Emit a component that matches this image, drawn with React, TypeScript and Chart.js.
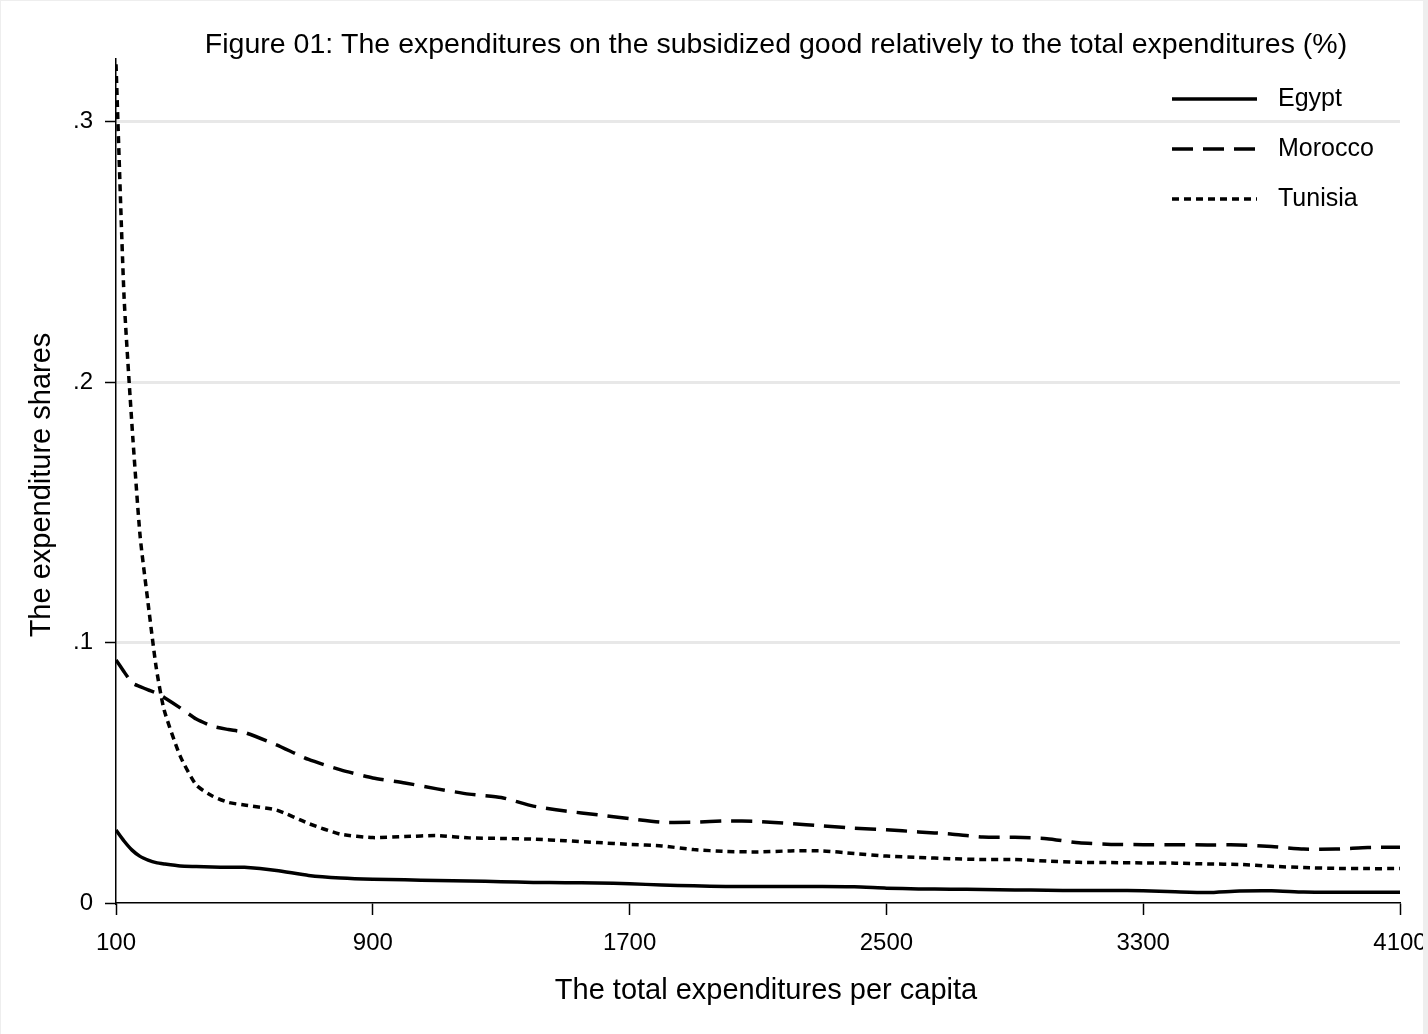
import React, { useEffect, useRef } from "react";
import { Chart, registerables } from "chart.js";

Chart.register(...registerables);

const xValues = [
  100, 125, 150, 175, 200, 225, 250, 300, 350, 400, 450, 500, 600, 700, 800, 900,
  1000, 1100, 1200, 1300, 1400, 1500, 1600, 1700, 1800, 1900, 2000, 2100, 2200,
  2300, 2400, 2500, 2600, 2700, 2800, 2900, 3000, 3100, 3200, 3300, 3400, 3500,
  3600, 3700, 3800, 3900, 4000, 4100,
];

const egypt = [
  0.028, 0.0238, 0.0203, 0.0179, 0.0165, 0.0155, 0.015, 0.0142, 0.014, 0.0138,
  0.0137, 0.0137, 0.0125, 0.0106, 0.0096, 0.0091, 0.0089, 0.0086, 0.0084, 0.0082,
  0.0079, 0.0078, 0.0077, 0.0074, 0.0069, 0.0066, 0.0063, 0.0063, 0.0063, 0.0063,
  0.0062, 0.0057, 0.0054, 0.0053, 0.0052, 0.005, 0.0049, 0.0048, 0.0048, 0.0047,
  0.0043, 0.004, 0.0046, 0.0047, 0.0042, 0.0041, 0.0041, 0.0041,
];

const morocco = [
  0.0933, 0.0888, 0.0845, 0.0831, 0.0818, 0.0806, 0.0789, 0.0749, 0.0706, 0.0679,
  0.0666, 0.0655, 0.0607, 0.0551, 0.0511, 0.048, 0.0461, 0.0438, 0.0418, 0.0405,
  0.0372, 0.0353, 0.0339, 0.0324, 0.031, 0.031, 0.0315, 0.0313, 0.0305, 0.0296,
  0.0287, 0.0281, 0.0273, 0.0265, 0.0253, 0.0252, 0.0247, 0.0231, 0.0225, 0.0224,
  0.0224, 0.0223, 0.0223, 0.0217, 0.0207, 0.0207, 0.0213, 0.0214,
];

const tunisia = [
  0.322, 0.233, 0.183, 0.141, 0.115, 0.0906, 0.0741, 0.0564, 0.0453, 0.0411,
  0.0386, 0.0376, 0.0357, 0.0305, 0.0264, 0.0251, 0.0255, 0.0259, 0.025, 0.0248,
  0.0245, 0.0239, 0.0232, 0.0225, 0.0219, 0.0205, 0.0198, 0.0196, 0.02, 0.02,
  0.019, 0.018, 0.0175, 0.017, 0.0167, 0.0167, 0.0161, 0.0156, 0.0155, 0.0154,
  0.0153, 0.015, 0.0148, 0.0141, 0.0136, 0.0133, 0.0132, 0.0132,
];

const seriesNames = ["Egypt", "Morocco", "Tunisia"];
const xTicks = [100, 900, 1700, 2500, 3300, 4100];
const yTicks = [0, 0.1, 0.2, 0.3];

const titleText =
  "Figure 01: The expenditures on the subsidized good relatively to the total expenditures (%)";
const xTitle = "The total expenditures per capita";
const yTitle = "The expenditure shares";

const FONT = '"Liberation Sans", Arial, Helvetica, sans-serif';

export default function App() {
  const ref = useRef<HTMLCanvasElement | null>(null);

  useEffect(() => {
    document.body.style.margin = "0";
    const canvas = ref.current;
    if (!canvas) return;

    const toPts = (ys: number[]) => xValues.map((x, i) => ({ x, y: ys[i] }));
    const dashes = [[], [21, 10], [7, 5]];
    const seriesData = [egypt, morocco, tunisia];

    const framePlugin = {
      id: "frame",
      beforeDraw(chart: any) {
        const c = chart.ctx;
        c.save();
        c.fillStyle = "#eeeeee";
        c.fillRect(0, 0, chart.width, chart.height);
        c.fillStyle = "#ffffff";
        c.fillRect(1, 1, 1422, chart.height - 1);
        c.restore();
      },
      afterDraw(chart: any) {
        const c = chart.ctx;
        c.save();
        // right frame strip (clips the last tick label like the original)
        c.fillStyle = "#eeeeee";
        c.fillRect(1423, 0, chart.width - 1423, chart.height);
        c.fillStyle = "#000";
        c.textAlign = "center";
        c.textBaseline = "middle";
        // title
        c.font = `28.5px ${FONT}`;
        c.fillText(titleText, 776, 45);
        // x title
        c.font = `29px ${FONT}`;
        c.fillText(xTitle, 766, 991);
        // y title
        c.save();
        c.translate(42, 485);
        c.rotate(-Math.PI / 2);
        c.fillText(yTitle, 0, 0);
        c.restore();
        // legend
        const rows = [99, 149, 199];
        c.font = `25px ${FONT}`;
        c.textAlign = "left";
        chart.data.datasets.forEach((ds: any, i: number) => {
          c.save();
          c.strokeStyle = "#000";
          c.lineWidth = 3.5;
          c.setLineDash(ds.borderDash || []);
          c.beginPath();
          c.moveTo(1172, rows[i]);
          c.lineTo(1257, rows[i]);
          c.stroke();
          c.restore();
          c.fillText(ds.label, 1278, rows[i]);
        });
        c.restore();
      },
    };

    const chart = new Chart(canvas, {
      type: "line",
      data: {
        datasets: seriesNames.map((name, i) => ({
          label: name,
          data: toPts(seriesData[i]),
          borderColor: "#000",
          backgroundColor: "#000",
          borderWidth: 3.5,
          borderDash: dashes[i],
          pointRadius: 0,
          tension: 0.2,
          fill: false,
        })),
      },
      options: {
        animation: false,
        responsive: false,
        maintainAspectRatio: false,
        events: [],
        layout: { padding: { top: 59, right: 28, left: 0, bottom: 0 } },
        plugins: {
          legend: { display: false },
          title: { display: false },
          tooltip: { enabled: false },
        },
        scales: {
          x: {
            type: "linear",
            min: 100,
            max: 4100,
            afterFit(scale: any) {
              scale.height = 131;
              scale.paddingLeft = 0;
              scale.paddingRight = 0;
            },
            afterBuildTicks(scale: any) {
              scale.ticks = xTicks.map((v) => ({ value: v }));
            },
            grid: {
              drawOnChartArea: false,
              drawTicks: true,
              tickLength: 12,
              tickColor: "#000",
              tickWidth: 1.5,
              color: "#000",
            },
            border: { display: true, color: "#000", width: 1.5 },
            ticks: {
              color: "#000",
              font: { family: FONT, size: 24 },
              padding: 14,
              maxRotation: 0,
              autoSkip: false,
              callback: (v: any) => String(v),
            },
          },
          y: {
            type: "linear",
            min: 0,
            max: 0.324,
            afterFit(scale: any) {
              scale.width = 116;
              scale.paddingTop = 0;
              scale.paddingBottom = 0;
            },
            afterBuildTicks(scale: any) {
              scale.ticks = yTicks.map((v) => ({ value: v }));
            },
            grid: {
              drawOnChartArea: true,
              color: (ctx: any) =>
                ctx.tick && ctx.tick.value === 0 ? "rgba(0,0,0,0)" : "#e8e8e8",
              lineWidth: 3,
              tickLength: 11,
              tickColor: "#000",
              tickWidth: 1.5,
            },
            border: { display: true, color: "#000", width: 1.5 },
            ticks: {
              color: "#000",
              font: { family: FONT, size: 24 },
              padding: 12,
              autoSkip: false,
              callback: (v: any) => {
                const n = Number(v);
                if (n === 0) return "0";
                return n.toFixed(1).replace(/^0/, "");
              },
            },
          },
        },
      },
      plugins: [framePlugin],
    });

    return () => chart.destroy();
  }, []);

  return (
    <div style={{ position: "absolute", left: 0, top: 0, width: 1428, height: 1034 }}>
      <canvas ref={ref} width={1428} height={1034} style={{ width: 1428, height: 1034 }} />
    </div>
  );
}
